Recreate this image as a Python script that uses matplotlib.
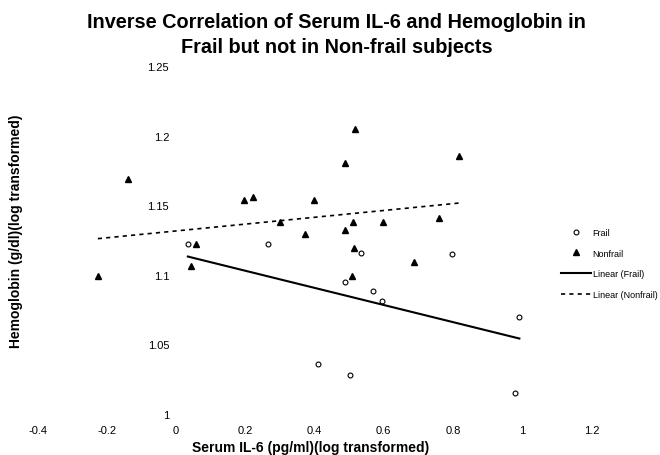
import matplotlib.pyplot as plt
import numpy as np

plt.rcParams['font.family'] = ['Liberation Sans', 'DejaVu Sans']

# Frail subjects (log IL-6, log hemoglobin)
frail_x = np.array([0.034, 0.265, 0.535, 0.796, 0.489, 0.569, 0.595, 0.992, 0.410, 0.503, 0.979])
frail_y = np.array([1.122, 1.122, 1.116, 1.115, 1.095, 1.088, 1.081, 1.070, 1.036, 1.028, 1.015])

# Nonfrail subjects
nonfrail_x = np.array([-0.140, -0.226, 0.197, 0.222, 0.299, 0.058, 0.043, 0.516, 0.818, 0.488,
                       0.399, 0.510, 0.598, 0.760, 0.374, 0.489, 0.514, 0.688, 0.508])
nonfrail_y = np.array([1.169, 1.099, 1.154, 1.156, 1.138, 1.122, 1.106, 1.205, 1.185, 1.180,
                       1.154, 1.138, 1.138, 1.141, 1.129, 1.132, 1.119, 1.109, 1.099])

xticks = [-0.4, -0.2, 0, 0.2, 0.4, 0.6, 0.8, 1, 1.2]
xtick_labels = ["-0.4", "-0.2", "0", "0.2", "0.4", "0.6", "0.8", "1", "1.2"]
yticks = [1, 1.05, 1.1, 1.15, 1.2, 1.25]
ytick_labels = ["1", "1.05", "1.1", "1.15", "1.2", "1.25"]

fig = plt.figure(figsize=(6.6, 4.56), dpi=100)
ax = fig.add_axes([0.057, 0.09, 0.839, 0.763])

ax.plot(frail_x, frail_y, "o", ms=3.5, mfc="white", mec="black", mew=0.8, ls="none", label="Frail")
ax.plot(nonfrail_x, nonfrail_y, "^", ms=4, color="black", ls="none", label="Nonfrail")

# linear trendlines over each group's x range
k, b = np.polyfit(frail_x, frail_y, 1)
xf = np.array([frail_x.min(), frail_x.max()])
ax.plot(xf, k * xf + b, color="black", lw=1.5, label="Linear (Frail)")

k2, b2 = np.polyfit(nonfrail_x, nonfrail_y, 1)
xn = np.array([nonfrail_x.min(), nonfrail_x.max()])
ax.plot(xn, k2 * xn + b2, color="black", lw=1.2, ls=(0, (2.5, 2.5)), label="Linear (Nonfrail)")

ax.set_xlim(-0.4, 1.2)
ax.set_ylim(1, 1.25)
ax.set_xticks(xticks)
ax.set_xticklabels(xtick_labels)
ax.set_yticks(yticks)
ax.set_yticklabels(ytick_labels)

ax.spines['left'].set_position(('data', 0))
for s in ax.spines.values():
    s.set_visible(False)
ax.tick_params(axis='both', length=0, labelsize=8)
ax.tick_params(axis='y', pad=5)
ax.tick_params(axis='x', pad=8)

fig.text(0.47, 0.009, "Serum IL-6 (pg/ml)(log transformed)", ha="center", va="baseline",
         fontsize=10, fontweight="bold")
fig.text(0.024, 0.493, "Hemoglobin (g/dl)(log transformed)", ha="center", va="center",
         rotation=90, fontsize=10, fontweight="bold")
fig.text(0.51, 0.9386, "Inverse Correlation of Serum IL-6 and Hemoglobin in",
         ha="center", va="baseline", fontsize=14.3, fontweight="bold")
fig.text(0.51, 0.8838, "Frail but not in Non-frail subjects",
         ha="center", va="baseline", fontsize=14.3, fontweight="bold")

fig.legend(loc="upper left", bbox_to_anchor=(0.85, 0.498), frameon=False, fontsize=6.5,
           handlelength=3.3, handletextpad=0.2, labelspacing=1.3, borderpad=0, borderaxespad=0)

fig.savefig("out.png", dpi=100)
